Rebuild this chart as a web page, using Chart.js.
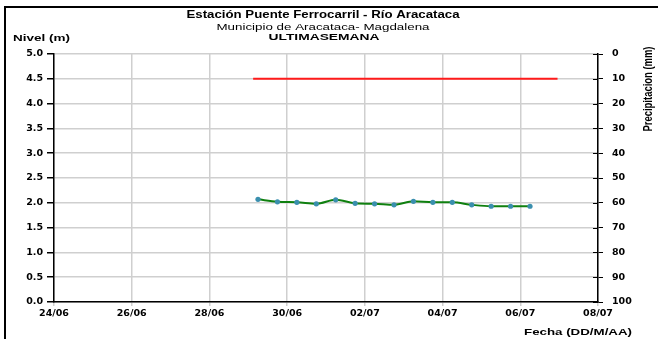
<!DOCTYPE html>
<html>
<head>
<meta charset="utf-8">
<script src="https://cdn.jsdelivr.net/npm/chart.js@4/dist/chart.umd.min.js"></script>
<style>
  html, body { margin: 0; padding: 0; background: #fff; }
  #wrap { position: relative; width: 658px; height: 339px; }
</style>
</head>
<body>
<div id="wrap"><canvas id="chart"></canvas></div>
<script>
// --- datos ---
const fechasEje = ['24/06', '26/06', '28/06', '30/06', '02/07', '04/07', '06/07', '08/07'];
const nivelLabels = ['0.0', '0.5', '1.0', '1.5', '2.0', '2.5', '3.0', '3.5', '4.0', '4.5', '5.0'];
const precipLabels = ['0', '10', '20', '30', '40', '50', '60', '70', '80', '90', '100'];

// lecturas de nivel cada 12 h
const horasNivel = ['29/06 06:00', '29/06 18:00', '30/06 06:00', '30/06 18:00', '01/07 06:00',
  '01/07 18:00', '02/07 06:00', '02/07 18:00', '03/07 06:00', '03/07 18:00', '04/07 06:00',
  '04/07 18:00', '05/07 06:00', '05/07 18:00', '06/07 06:00'];
const nivel = [2.07, 2.02, 2.01, 1.98, 2.06, 1.99, 1.98, 1.96, 2.03, 2.01, 2.01, 1.96, 1.93, 1.93, 1.93];

// nivel de alerta
const horasAlerta = ['29/06 03:00', '06/07 23:00'];
const alerta = [4.5, 4.5];

// dias desde 24/06
function dia(str) {
  const [f, h] = str.split(' ');
  const [d, m] = f.split('/').map(Number);
  const [hh, mm] = (h || '00:00').split(':').map(Number);
  const base = m === 6 ? d - 24 : d + 6;
  return base + (hh + mm / 60) / 24;
}

const FONT = '"Liberation Sans", Arial, sans-serif';
const TICKFONT = '"DejaVu Sans", sans-serif';

// textos fuera del área del gráfico
function texto(ctx, s, x, y, font, ancho, align) {
  ctx.save();
  ctx.font = font;
  const w = ctx.measureText(s).width;
  const k = ancho ? ancho / w : 1;
  ctx.translate(x, y);
  ctx.scale(k, 1);
  ctx.textAlign = align || 'center';
  ctx.textBaseline = 'alphabetic';
  ctx.fillStyle = '#000';
  ctx.fillText(s, 0, 0);
  ctx.restore();
}

const marco = {
  id: 'marco',
  afterDraw(chart) {
    const ctx = chart.ctx;
    ctx.save();
    ctx.fillStyle = '#000';
    ctx.fillRect(4, 6, 654, 2);
    ctx.fillRect(4, 6, 2, 333);
    ctx.restore();

    texto(ctx, 'Estación Puente Ferrocarril - Río Aracataca', 323, 18, 'bold 10px ' + FONT, 273);
    texto(ctx, 'Municipio de Aracataca- Magdalena', 323, 30, '9.5px ' + FONT, 213);
    texto(ctx, 'ULTIMASEMANA', 324, 39.5, 'bold 9.5px ' + FONT, 111);
    texto(ctx, 'Nivel (m)', 13, 41, 'bold 9.5px ' + FONT, 57, 'left');
    texto(ctx, 'Fecha (DD/M/AA)', 632, 335, 'bold 9.5px ' + FONT, 108, 'right');

    // eje derecho: marcas que cruzan el eje
    const y2 = chart.scales.y2;
    ctx.save();
    ctx.strokeStyle = '#000';
    ctx.lineWidth = 1;
    y2.ticks.forEach((t, i) => {
      const py = Math.round(y2.getPixelForTick(i)) + 0.5;
      ctx.beginPath();
      ctx.moveTo(y2.left - 5, py);
      ctx.lineTo(y2.left, py);
      ctx.stroke();
    });
    ctx.restore();

    ctx.save();
    ctx.translate(652, 89);
    ctx.rotate(-Math.PI / 2);
    ctx.font = 'bold 12px ' + FONT;
    const w = ctx.measureText('Precipitacion (mm)').width;
    ctx.scale(85 / w, 1);
    ctx.textAlign = 'center';
    ctx.fillStyle = '#000';
    ctx.fillText('Precipitacion (mm)', 0, 0);
    ctx.restore();
  }
};

new Chart(document.getElementById('chart'), {
  type: 'line',
  data: {
    datasets: [
      {
        label: 'Alerta',
        data: horasAlerta.map((h, i) => ({ x: dia(h), y: alerta[i] })),
        borderColor: '#ff1a1a',
        borderWidth: 2,
        pointRadius: 0,
        tension: 0
      },
      {
        label: 'Nivel',
        data: horasNivel.map((h, i) => ({ x: dia(h), y: nivel[i] })),
        borderColor: '#0f800f',
        borderWidth: 2,
        pointRadius: 2.6,
        pointBackgroundColor: '#3a8fae',
        pointBorderWidth: 0,
        cubicInterpolationMode: 'monotone'
      }
    ]
  },
  options: {
    responsive: true,
    maintainAspectRatio: false,
    animation: false,
    layout: { padding: { top: 54, left: 0, right: 0, bottom: 0 } },
    plugins: { legend: { display: false }, tooltip: { enabled: false } },
    scales: {
      x: {
        type: 'linear',
        min: 0,
        max: 14,
        afterFit: s => { s.height = 37; },
        afterBuildTicks: s => { s.ticks = fechasEje.map((_, i) => ({ value: i * 2 })); },
        ticks: {
          callback: (v) => fechasEje[v / 2],
          font: { family: TICKFONT, size: 9.5, weight: 'bold' },
          color: '#000',
          padding: 2,
          maxRotation: 0,
          autoSkip: false
        },
        grid: { color: '#cfcfcf', lineWidth: 1.5, tickLength: 4, tickColor: '#cfcfcf' },
        border: { color: '#000', width: 1.5 }
      },
      y: {
        position: 'left',
        min: 0,
        max: 5,
        afterFit: s => { s.width = 54; },
        afterBuildTicks: s => { s.ticks = nivelLabels.map(v => ({ value: Number(v) })); },
        ticks: {
          callback: (v) => v.toFixed(1),
          font: { family: TICKFONT, size: 9.5, weight: 'bold' },
          color: '#000',
          padding: 4
        },
        grid: { color: '#cfcfcf', lineWidth: 1.5, tickLength: 7, tickColor: '#000' },
        border: { color: '#000', width: 1.5 }
      },
      y2: {
        position: 'right',
        reverse: true,
        min: 0,
        max: 100,
        afterFit: s => { s.width = 60; },
        afterBuildTicks: s => { s.ticks = precipLabels.map(v => ({ value: Number(v) })); },
        ticks: {
          callback: (v) => String(v),
          font: { family: TICKFONT, size: 9.5, weight: 'bold' },
          color: '#000',
          padding: 9
        },
        grid: { drawOnChartArea: false, tickLength: 5, tickColor: '#000', lineWidth: 1 },
        border: { color: '#000', width: 1.5 }
      }
    }
  },
  plugins: [marco]
});
</script>
</body>
</html>
